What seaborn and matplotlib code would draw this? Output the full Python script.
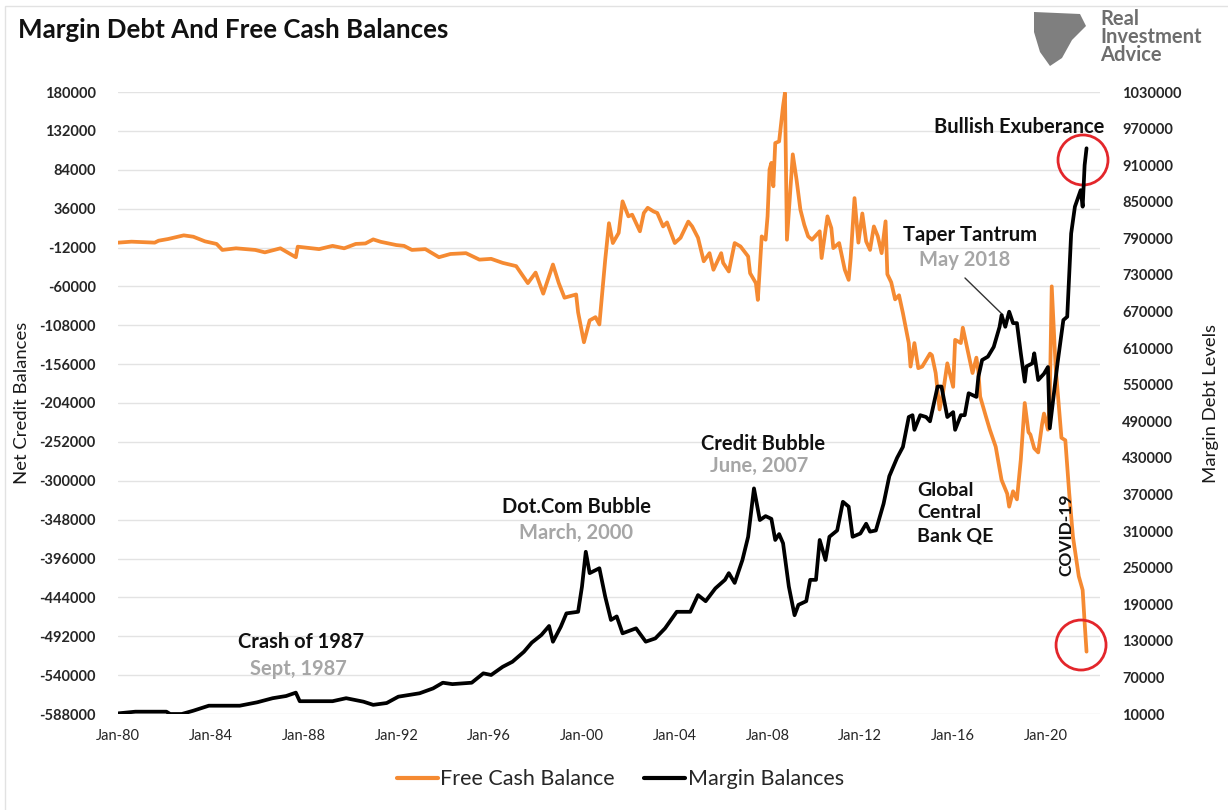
import pandas as pd
import numpy as np
import matplotlib
matplotlib.use("Agg")
import matplotlib.pyplot as plt
import matplotlib.dates as mdates
from matplotlib.patches import Ellipse, Polygon, Rectangle
from matplotlib.lines import Line2D
from matplotlib.ticker import FuncFormatter
import seaborn as sns

# Free cash balance (net credit balances)
fcb_dates = [
    "1980-01", "1980-08", "1981-08", "1981-10", "1982-03", "1982-11", "1983-04", "1983-10",
    "1984-04", "1984-07", "1985-02", "1985-07", "1985-12", "1986-05", "1987-01", "1987-09",
    "1987-10", "1988-09", "1989-04", "1989-10", "1990-04", "1990-09", "1991-01", "1991-05",
    "1992-01", "1992-05", "1992-09", "1993-04", "1993-11", "1994-02", "1994-05", "1995-01",
    "1995-08", "1996-02", "1996-08", "1997-03", "1997-09", "1998-01", "1998-05", "1998-10",
    "1999-01", "1999-04", "1999-10", "1999-11", "2000-02", "2000-05", "2000-08", "2000-10",
    "2001-01", "2001-03", "2001-05", "2001-08", "2001-10", "2002-01", "2002-03", "2002-07",
    "2002-09", "2002-11", "2003-02", "2003-04", "2003-07", "2003-09", "2004-01", "2004-04",
    "2004-08", "2004-10", "2005-01", "2005-04", "2005-07", "2005-09", "2006-01", "2006-02",
    "2006-05", "2006-08", "2006-11", "2007-03", "2007-04", "2007-07", "2007-08", "2007-10",
    "2007-12", "2008-01", "2008-02", "2008-03", "2008-04", "2008-05", "2008-07", "2008-09",
    "2008-10", "2008-11", "2009-02", "2009-04", "2009-06", "2009-08", "2009-10", "2009-12",
    "2010-04", "2010-05", "2010-08", "2010-10", "2010-11", "2011-02", "2011-05", "2011-07",
    "2011-08", "2011-10", "2011-12", "2012-02", "2012-04", "2012-06", "2012-08", "2012-10",
    "2012-12", "2013-02", "2013-03", "2013-05", "2013-07", "2013-09", "2013-11", "2014-02",
    "2014-03", "2014-05", "2014-07", "2014-09", "2015-01", "2015-02", "2015-04", "2015-06",
    "2015-08", "2015-10", "2016-01", "2016-02", "2016-05", "2016-06", "2016-09", "2016-11",
    "2017-01", "2017-02", "2017-03", "2017-06", "2017-08", "2017-11", "2018-02", "2018-05",
    "2018-06", "2018-08", "2018-10", "2018-12", "2019-02", "2019-04", "2019-05", "2019-07",
    "2019-09", "2019-11", "2019-12", "2020-02", "2020-03", "2020-04", "2020-06", "2020-07",
    "2020-09", "2020-11", "2021-01", "2021-03", "2021-06", "2021-08", "2021-09", "2021-10",
]
fcb_values = [
    -6000, -4800, -6000, -3600, -1500, 3000, 1300, -4400,
    -7600, -15000, -13000, -14000, -15000, -18000, -13000, -24000,
    -11000, -14000, -10000, -13000, -7600, -7000, -2000, -5000,
    -9000, -10000, -15000, -14000, -24000, -22000, -20000, -19000,
    -27000, -26000, -31000, -35000, -56000, -43000, -69000, -33000,
    -56000, -74000, -70000, -92000, -129000, -102000, -98000, -107000,
    -27000, 18000, -6500, 6000, 45000, 26500, 28500, 8000,
    30600, 37000, 32500, 30600, 14000, 19000, -6500, 0,
    20000, 14000, 0, -29000, -19000, -39500, -19000, -31000,
    -41600, -6500, -10700, -23000, -43700, -56000, -76700, 1700,
    -2400, 26500, 84300, 92500, 63600, 117000, 119000, 162700,
    179000, -2400, 103000, 72000, 34700, 16000, 1700, -2400,
    8000, -25000, 26500, 12000, -12700, -6500, -39500, -52000,
    -25000, 49000, -6000, 30000, -4500, -15000, 14000, 2000,
    -19000, 20300, -45000, -55000, -76000, -71000, -93000, -130000,
    -159000, -130000, -161000, -159000, -143000, -145000, -167000, -212000,
    -188000, -155000, -184000, -126000, -130000, -111000, -145000, -167000,
    -148000, -165000, -196000, -221000, -237000, -258000, -299000, -316000,
    -332000, -313000, -323000, -274000, -204000, -240000, -243000, -260000,
    -265000, -230000, -217000, -237000, -200000, -60000, -159000, -188000,
    -247000, -250000, -315000, -369000, -418000, -435000, -475000, -511000,
]

# Margin balances (margin debt levels)
mb_dates = [
    "1980-01", "1980-10", "1982-02", "1982-04", "1982-10", "1983-04", "1983-12", "1985-04",
    "1986-01", "1986-09", "1987-04", "1987-09", "1987-11", "1989-04", "1989-11", "1990-08",
    "1991-01", "1991-08", "1992-02", "1993-01", "1993-08", "1994-01", "1994-06", "1995-04",
    "1995-10", "1996-02", "1996-08", "1997-01", "1997-07", "1997-11", "1998-04", "1998-08",
    "1998-10", "1999-02", "1999-05", "1999-11", "2000-01", "2000-03", "2000-05", "2000-10",
    "2001-01", "2001-04", "2001-07", "2001-10", "2002-05", "2002-10", "2003-03", "2003-08",
    "2004-02", "2004-09", "2005-01", "2005-05", "2005-10", "2006-03", "2006-05", "2006-08",
    "2006-12", "2007-03", "2007-06", "2007-09", "2007-12", "2008-03", "2008-05", "2008-07",
    "2008-09", "2008-12", "2009-03", "2009-05", "2009-09", "2009-11", "2010-02", "2010-04",
    "2010-07", "2010-09", "2011-01", "2011-04", "2011-07", "2011-09", "2012-01", "2012-04",
    "2012-06", "2012-09", "2013-01", "2013-04", "2013-08", "2013-11", "2014-02", "2014-04",
    "2014-05", "2014-08", "2014-11", "2015-01", "2015-05", "2015-07", "2015-10", "2016-01",
    "2016-02", "2016-05", "2016-07", "2016-09", "2017-01", "2017-02", "2017-04", "2017-07",
    "2017-10", "2018-01", "2018-02", "2018-04", "2018-06", "2018-08", "2018-10", "2018-12",
    "2019-02", "2019-03", "2019-06", "2019-07", "2019-09", "2019-12", "2020-02", "2020-03",
    "2020-07", "2020-10", "2020-12", "2021-02", "2021-04", "2021-07", "2021-08", "2021-09",
    "2021-10",
]
mb_values = [
    11000, 13800, 13800, 10000, 10000, 15400, 23600, 23600,
    29200, 35900, 39500, 45000, 31000, 31000, 35900, 30200,
    25000, 28000, 38400, 44000, 52000, 61300, 59000, 61300,
    76700, 74000, 87400, 95700, 112000, 127000, 139500, 154300,
    128500, 153000, 175000, 177600, 218800, 276000, 241000, 249000,
    202400, 164200, 170000, 142300, 150500, 128600, 134000, 150500,
    177600, 177600, 205000, 195000, 216000, 230000, 241000, 225000,
    262500, 300600, 380000, 328000, 334500, 330000, 295400, 305000,
    290000, 219000, 172000, 189000, 195000, 230000, 230000, 295400,
    262500, 300600, 311000, 358000, 350000, 300600, 306000, 322000,
    309000, 311000, 355000, 400000, 430000, 448000, 497000, 500000,
    476000, 500000, 497000, 490000, 547000, 547000, 497000, 505000,
    476000, 500000, 500000, 536000, 530000, 563000, 590500, 596000,
    612000, 645000, 664000, 645000, 669700, 651000, 651000, 601500,
    555000, 580000, 585000, 601500, 557700, 568000, 579000, 478500,
    585000, 656000, 661500, 798000, 842000, 869000, 842000, 910000,
    937700,
]

left_ticks = list(range(-588000, 180001, 48000))
right_ticks = list(range(10000, 1030001, 60000))
tick_years = list(range(1980, 2021, 4))

orange = "#F58A32"
gray_txt = "#A6A6A6"

fcb = pd.DataFrame({"date": pd.to_datetime(fcb_dates), "value": fcb_values})
mb = pd.DataFrame({"date": pd.to_datetime(mb_dates), "value": mb_values})

sns.set_theme(style="white")
plt.rcParams["font.family"] = ["Lato", "DejaVu Sans"]

fig = plt.figure(figsize=(12.28, 8.10), dpi=100)
ax = fig.add_axes([118 / 1228, 1 - 714 / 810, 982 / 1228, 622 / 810])
ax2 = ax.twinx()

sns.lineplot(data=fcb, x="date", y="value", ax=ax, color=orange, linewidth=2.7)
sns.lineplot(data=mb, x="date", y="value", ax=ax2, color="black", linewidth=2.7)

ax.set_xlim(pd.Timestamp("1980-01-01"), pd.Timestamp("2022-05-01"))
ax.set_ylim(left_ticks[0], left_ticks[-1])
ax2.set_ylim(right_ticks[0], right_ticks[-1])
ax.set_yticks(left_ticks)
ax2.set_yticks(right_ticks)
ax.set_xticks([pd.Timestamp(f"{y}-01-01") for y in tick_years])
ax.xaxis.set_major_formatter(mdates.DateFormatter("%b-%y"))
fmt = FuncFormatter(lambda v, p: f"{v:.0f}")
ax.yaxis.set_major_formatter(fmt)
ax2.yaxis.set_major_formatter(fmt)

ax.yaxis.grid(True, color="#E3E3E3", linewidth=1)
ax.xaxis.grid(False)
ax2.grid(False)
for a in (ax, ax2):
    for s in a.spines.values():
        s.set_visible(False)
ax.tick_params(axis="y", length=0, pad=16, labelsize=10.5, labelcolor="#262626")
ax.tick_params(axis="x", length=0, pad=11, labelsize=10.5, labelcolor="#262626")
ax2.tick_params(axis="y", length=0, pad=16, labelsize=10.5, labelcolor="#262626")
for lab in ax.get_yticklabels() + ax2.get_yticklabels():
    lab.set_fontweight("bold")

ax.set_xlabel("")
ax.set_ylabel("Net Credit Balances", fontsize=13.3, color="#1a1a1a")
ax2.set_ylabel("Margin Debt Levels", fontsize=13.3, color="#1a1a1a")
ax.yaxis.set_label_coords(-0.0896, 0.5)
ax2.yaxis.set_label_coords(1.1049, 0.5)

# annotations
bold = dict(transform=ax.transAxes, ha="center", va="center", fontsize=14.5,
            fontweight="bold", color="#111111")
sub = dict(transform=ax.transAxes, ha="center", va="center", fontsize=14.5,
           fontweight="bold", color=gray_txt)
ax.text(0.9175, 0.9437, "Bullish Exuberance", **bold)
ax.text(0.8676, 0.7701, "Taper Tantrum", **bold)
ax.text(0.8625, 0.7299, "May 2018", **sub)
ax.plot([0.8625, 0.9012], [0.7010, 0.6415], transform=ax.transAxes, color="#333333", lw=1)
ax.text(0.6568, 0.4341, "Credit Bubble", **bold)
ax.text(0.6527, 0.3987, "June, 2007", **sub)
ax.text(0.4674, 0.3328, "Dot.Com Bubble", **bold)
ax.text(0.4664, 0.2910, "March, 2000", **sub)
ax.text(0.1864, 0.1158, "Crash of 1987", **bold)
ax.text(0.1833, 0.0723, "Sept, 1987", **sub)
ax.text(0.8136, 0.3232, "Global\nCentral\nBank QE", transform=ax.transAxes, ha="left",
        va="center", fontsize=14, fontweight="bold", color="#111111", linespacing=1.4)
ax.text(0.9654, 0.2878, "COVID-19", transform=ax.transAxes, ha="center", va="center",
        fontsize=12.5, fontweight="bold", color="#111111", rotation=90)

for cx, cy in [(0.9827, 0.8907), (0.9807, 0.1109)]:
    ax.add_patch(Ellipse((cx, cy), 50 / 982, 50 / 622, transform=ax.transAxes,
                         fill=False, edgecolor="#E3262B", linewidth=2, clip_on=False,
                         zorder=5))

# legend
handles = [Line2D([], [], color=orange, lw=3), Line2D([], [], color="black", lw=3)]
fig.legend(handles, ["Free Cash Balance", "Margin Balances"], loc="center",
           bbox_to_anchor=(0.505, 0.038), ncol=2, frameon=False, fontsize=15.5,
           handlelength=1.9, handletextpad=0.1, columnspacing=1.4)

# title, logo and frame
fig.text(18 / 1228, 1 - 30 / 810, "Margin Debt And Free Cash Balances", fontsize=18.6,
         fontweight="bold", ha="left", va="center", color="#111111")
fig.text(1100 / 1228, 1 - 37 / 810, "Real\nInvestment\nAdvice", fontsize=14.5,
         fontweight="bold", ha="left", va="center", color="#6E6E6E", linespacing=0.85)
shield = [(1034, 12), (1080, 14), (1086, 26), (1072, 40), (1062, 58), (1050, 66),
          (1040, 52), (1034, 32)]
fig.patches.append(Polygon([(x / 1228, 1 - y / 810) for x, y in shield], closed=True,
                           transform=fig.transFigure, facecolor="#7F7F7F",
                           edgecolor="none"))
fig.patches.append(Rectangle((5 / 1228, -0.01), 1.0, 1 - 6 / 810 + 0.01,
                             transform=fig.transFigure, fill=False,
                             edgecolor="#E2E2E2", linewidth=1))

fig.savefig("out.png", dpi=100, facecolor="white")
